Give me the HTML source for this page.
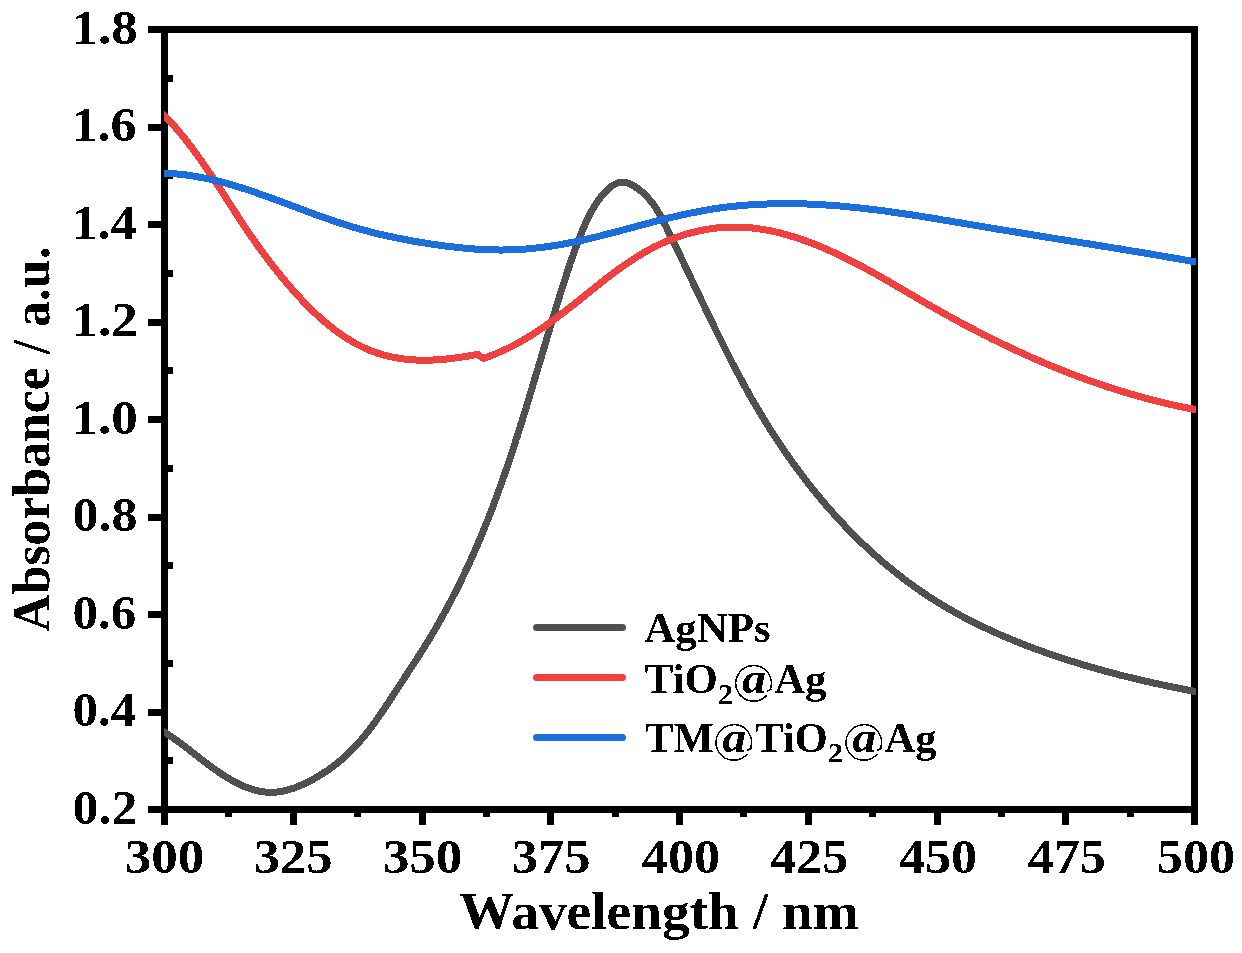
<!DOCTYPE html>
<html><head><meta charset="utf-8"><style>
html,body{margin:0;padding:0;background:#fff;}
svg{display:block;}
text{font-family:"Liberation Serif", serif;font-weight:bold;fill:#000;}
.tl{font-size:48px;}
.at{font-size:53px;}
.lg{font-size:42px;}
.sub{font-size:28px;}
</style></head><body>
<svg width="1242" height="953" viewBox="0 0 1242 953">
<defs><clipPath id="plotclip"><rect x="164" y="0" width="1032" height="953"/></clipPath><filter id="crisp" x="0" y="0" width="1242" height="953" filterUnits="userSpaceOnUse"><feComponentTransfer><feFuncA type="discrete" tableValues="0 1"/></feComponentTransfer></filter></defs>
<rect width="1242" height="953" fill="#fff"/>
<rect x="164.5" y="29.5" width="1030.0" height="780.0" fill="none" stroke="#000" stroke-width="7" shape-rendering="crispEdges"/>
<line x1="164.5" y1="809.5" x2="164.5" y2="825" stroke="#000" stroke-width="7" shape-rendering="crispEdges"/>
<line x1="228.875" y1="809.5" x2="228.875" y2="817" stroke="#000" stroke-width="7" shape-rendering="crispEdges"/>
<line x1="293.25" y1="809.5" x2="293.25" y2="825" stroke="#000" stroke-width="7" shape-rendering="crispEdges"/>
<line x1="357.625" y1="809.5" x2="357.625" y2="817" stroke="#000" stroke-width="7" shape-rendering="crispEdges"/>
<line x1="422.0" y1="809.5" x2="422.0" y2="825" stroke="#000" stroke-width="7" shape-rendering="crispEdges"/>
<line x1="486.375" y1="809.5" x2="486.375" y2="817" stroke="#000" stroke-width="7" shape-rendering="crispEdges"/>
<line x1="550.75" y1="809.5" x2="550.75" y2="825" stroke="#000" stroke-width="7" shape-rendering="crispEdges"/>
<line x1="615.125" y1="809.5" x2="615.125" y2="817" stroke="#000" stroke-width="7" shape-rendering="crispEdges"/>
<line x1="679.5" y1="809.5" x2="679.5" y2="825" stroke="#000" stroke-width="7" shape-rendering="crispEdges"/>
<line x1="743.875" y1="809.5" x2="743.875" y2="817" stroke="#000" stroke-width="7" shape-rendering="crispEdges"/>
<line x1="808.25" y1="809.5" x2="808.25" y2="825" stroke="#000" stroke-width="7" shape-rendering="crispEdges"/>
<line x1="872.625" y1="809.5" x2="872.625" y2="817" stroke="#000" stroke-width="7" shape-rendering="crispEdges"/>
<line x1="937.0" y1="809.5" x2="937.0" y2="825" stroke="#000" stroke-width="7" shape-rendering="crispEdges"/>
<line x1="1001.375" y1="809.5" x2="1001.375" y2="817" stroke="#000" stroke-width="7" shape-rendering="crispEdges"/>
<line x1="1065.75" y1="809.5" x2="1065.75" y2="825" stroke="#000" stroke-width="7" shape-rendering="crispEdges"/>
<line x1="1130.125" y1="809.5" x2="1130.125" y2="817" stroke="#000" stroke-width="7" shape-rendering="crispEdges"/>
<line x1="1194.5" y1="809.5" x2="1194.5" y2="825" stroke="#000" stroke-width="7" shape-rendering="crispEdges"/>
<line x1="148" y1="809.5" x2="164.5" y2="809.5" stroke="#000" stroke-width="7" shape-rendering="crispEdges"/>
<line x1="164.5" y1="760.75" x2="173" y2="760.75" stroke="#000" stroke-width="7" shape-rendering="crispEdges"/>
<line x1="148" y1="712.0" x2="164.5" y2="712.0" stroke="#000" stroke-width="7" shape-rendering="crispEdges"/>
<line x1="164.5" y1="663.25" x2="173" y2="663.25" stroke="#000" stroke-width="7" shape-rendering="crispEdges"/>
<line x1="148" y1="614.5" x2="164.5" y2="614.5" stroke="#000" stroke-width="7" shape-rendering="crispEdges"/>
<line x1="164.5" y1="565.75" x2="173" y2="565.75" stroke="#000" stroke-width="7" shape-rendering="crispEdges"/>
<line x1="148" y1="517.0" x2="164.5" y2="517.0" stroke="#000" stroke-width="7" shape-rendering="crispEdges"/>
<line x1="164.5" y1="468.25" x2="173" y2="468.25" stroke="#000" stroke-width="7" shape-rendering="crispEdges"/>
<line x1="148" y1="419.5" x2="164.5" y2="419.5" stroke="#000" stroke-width="7" shape-rendering="crispEdges"/>
<line x1="164.5" y1="370.75" x2="173" y2="370.75" stroke="#000" stroke-width="7" shape-rendering="crispEdges"/>
<line x1="148" y1="322.0" x2="164.5" y2="322.0" stroke="#000" stroke-width="7" shape-rendering="crispEdges"/>
<line x1="164.5" y1="273.25" x2="173" y2="273.25" stroke="#000" stroke-width="7" shape-rendering="crispEdges"/>
<line x1="148" y1="224.49999999999994" x2="164.5" y2="224.49999999999994" stroke="#000" stroke-width="7" shape-rendering="crispEdges"/>
<line x1="164.5" y1="175.74999999999991" x2="173" y2="175.74999999999991" stroke="#000" stroke-width="7" shape-rendering="crispEdges"/>
<line x1="148" y1="126.99999999999997" x2="164.5" y2="126.99999999999997" stroke="#000" stroke-width="7" shape-rendering="crispEdges"/>
<line x1="164.5" y1="78.24999999999994" x2="173" y2="78.24999999999994" stroke="#000" stroke-width="7" shape-rendering="crispEdges"/>
<line x1="148" y1="29.5" x2="164.5" y2="29.5" stroke="#000" stroke-width="7" shape-rendering="crispEdges"/>
<path d="M158.5,728.4 L164.5,732.3 L166.6,733.6 L168.6,735.0 L170.7,736.3 L172.7,737.7 L174.7,739.1 L176.6,740.4 L178.6,741.8 L180.5,743.2 L182.4,744.6 L184.3,746.1 L186.1,747.5 L188.0,748.9 L189.8,750.3 L191.7,751.8 L193.5,753.2 L195.3,754.6 L197.2,756.1 L199.0,757.5 L200.8,759.0 L202.7,760.4 L204.6,761.8 L206.4,763.2 L208.3,764.7 L210.2,766.1 L212.1,767.5 L214.1,768.9 L216.1,770.3 L218.1,771.7 L220.1,773.1 L222.1,774.4 L224.2,775.8 L226.3,777.1 L228.4,778.3 L230.5,779.6 L232.7,780.8 L234.8,782.0 L237.0,783.1 L239.2,784.2 L241.4,785.2 L243.6,786.2 L245.8,787.1 L248.1,788.0 L250.3,788.7 L252.6,789.5 L254.9,790.1 L257.1,790.7 L259.4,791.2 L261.7,791.6 L264.0,791.9 L266.3,792.2 L268.6,792.3 L270.9,792.4 L273.2,792.3 L275.6,792.2 L277.9,791.9 L280.2,791.6 L282.5,791.2 L284.8,790.7 L287.1,790.2 L289.3,789.5 L291.6,788.8 L293.9,788.1 L296.1,787.3 L298.4,786.4 L300.6,785.4 L302.8,784.5 L305.0,783.4 L307.2,782.4 L309.4,781.3 L311.6,780.1 L313.7,779.0 L315.8,777.8 L317.9,776.5 L320.0,775.3 L322.0,774.0 L324.0,772.7 L326.0,771.4 L328.0,770.1 L330.0,768.7 L331.9,767.3 L333.8,765.9 L335.7,764.4 L337.6,763.0 L339.4,761.5 L341.2,759.9 L343.0,758.4 L344.8,756.8 L346.5,755.2 L348.2,753.6 L349.9,751.9 L351.6,750.3 L353.2,748.6 L354.9,746.9 L356.5,745.1 L358.1,743.4 L359.6,741.6 L361.2,739.8 L362.7,738.0 L364.2,736.2 L365.7,734.3 L367.2,732.5 L368.6,730.6 L370.1,728.7 L371.5,726.8 L372.9,724.9 L374.3,723.0 L375.7,721.1 L377.1,719.1 L378.5,717.2 L379.8,715.2 L381.2,713.2 L382.5,711.2 L383.9,709.3 L385.2,707.3 L386.5,705.3 L387.9,703.3 L389.2,701.3 L390.5,699.3 L391.8,697.3 L393.1,695.3 L394.4,693.2 L395.7,691.2 L397.0,689.2 L398.3,687.2 L399.6,685.2 L401.0,683.2 L402.3,681.2 L403.6,679.2 L404.9,677.2 L406.2,675.2 L407.5,673.2 L408.8,671.2 L410.1,669.2 L411.4,667.2 L412.7,665.2 L414.0,663.2 L415.3,661.2 L416.6,659.2 L417.9,657.2 L419.2,655.2 L420.5,653.2 L421.7,651.2 L423.0,649.2 L424.3,647.2 L425.5,645.2 L426.8,643.2 L428.0,641.1 L429.3,639.1 L430.5,637.1 L431.7,635.0 L432.9,633.0 L434.2,630.9 L435.4,628.9 L436.6,626.8 L437.7,624.8 L438.9,622.7 L440.1,620.6 L441.3,618.6 L442.4,616.5 L443.6,614.4 L444.7,612.3 L445.9,610.2 L447.0,608.1 L448.1,606.0 L449.2,603.9 L450.3,601.8 L451.5,599.7 L452.5,597.6 L453.6,595.5 L454.7,593.4 L455.8,591.3 L456.9,589.1 L457.9,587.0 L459.0,584.9 L460.0,582.7 L461.1,580.6 L462.1,578.4 L463.2,576.3 L464.2,574.1 L465.2,572.0 L466.2,569.8 L467.2,567.7 L468.2,565.5 L469.2,563.4 L470.2,561.2 L471.2,559.0 L472.2,556.8 L473.1,554.7 L474.1,552.5 L475.1,550.3 L476.0,548.1 L477.0,545.9 L477.9,543.7 L478.8,541.5 L479.8,539.4 L480.7,537.2 L481.6,535.0 L482.5,532.8 L483.4,530.5 L484.3,528.3 L485.2,526.1 L486.1,523.9 L487.0,521.7 L487.9,519.5 L488.7,517.3 L489.6,515.1 L490.5,512.8 L491.3,510.6 L492.2,508.4 L493.0,506.2 L493.9,503.9 L494.7,501.7 L495.5,499.5 L496.4,497.2 L497.2,495.0 L498.0,492.8 L498.8,490.5 L499.6,488.3 L500.4,486.0 L501.2,483.8 L502.0,481.6 L502.8,479.3 L503.6,477.1 L504.4,474.8 L505.2,472.6 L505.9,470.3 L506.7,468.1 L507.5,465.8 L508.2,463.5 L509.0,461.3 L509.8,459.0 L510.5,456.8 L511.3,454.5 L512.0,452.2 L512.8,450.0 L513.5,447.7 L514.2,445.5 L515.0,443.2 L515.7,440.9 L516.4,438.6 L517.2,436.4 L517.9,434.1 L518.6,431.8 L519.3,429.6 L520.0,427.3 L520.7,425.0 L521.5,422.7 L522.2,420.5 L522.9,418.2 L523.6,415.9 L524.3,413.6 L525.0,411.4 L525.7,409.1 L526.4,406.8 L527.1,404.5 L527.8,402.2 L528.5,400.0 L529.2,397.7 L529.8,395.4 L530.5,393.1 L531.2,390.8 L531.9,388.5 L532.6,386.3 L533.3,384.0 L534.0,381.7 L534.6,379.4 L535.3,377.1 L536.0,374.8 L536.7,372.6 L537.4,370.3 L538.0,368.0 L538.7,365.7 L539.4,363.4 L540.1,361.1 L540.8,358.8 L541.4,356.6 L542.1,354.3 L542.8,352.0 L543.5,349.7 L544.2,347.4 L544.8,345.1 L545.5,342.9 L546.2,340.6 L546.9,338.3 L547.6,336.0 L548.2,333.7 L548.9,331.4 L549.6,329.2 L550.3,326.9 L551.0,324.6 L551.7,322.3 L552.4,320.0 L553.1,317.7 L553.7,315.5 L554.4,313.2 L555.1,310.9 L555.8,308.6 L556.5,306.4 L557.2,304.1 L557.9,301.8 L558.6,299.5 L559.3,297.3 L560.0,295.0 L560.7,292.7 L561.5,290.4 L562.2,288.2 L562.9,285.9 L563.6,283.6 L564.3,281.4 L565.0,279.1 L565.8,276.8 L566.5,274.6 L567.2,272.3 L568.0,270.1 L568.7,267.8 L569.5,265.6 L570.2,263.3 L571.0,261.1 L571.7,258.8 L572.5,256.6 L573.3,254.4 L574.1,252.2 L574.8,250.0 L575.7,247.8 L576.5,245.6 L577.3,243.4 L578.2,241.2 L579.0,239.0 L579.9,236.8 L580.8,234.6 L581.7,232.4 L582.5,230.2 L583.5,228.1 L584.4,225.9 L585.3,223.7 L586.3,221.6 L587.3,219.4 L588.3,217.3 L589.4,215.2 L590.5,213.1 L591.6,211.0 L592.8,208.9 L594.1,206.9 L595.3,204.8 L596.7,202.8 L598.0,200.8 L599.5,198.8 L601.0,196.9 L602.5,194.9 L604.2,193.0 L605.9,191.2 L607.6,189.5 L609.4,187.9 L611.3,186.4 L613.2,185.1 L615.2,184.1 L617.2,183.2 L619.3,182.6 L621.4,182.3 L623.5,182.3 L625.8,182.6 L628.0,183.3 L630.2,184.1 L632.4,185.2 L634.6,186.4 L636.7,187.8 L638.7,189.2 L640.6,190.7 L642.5,192.3 L644.3,194.0 L645.9,195.6 L647.6,197.4 L649.1,199.1 L650.6,200.9 L652.1,202.7 L653.5,204.6 L654.8,206.5 L656.1,208.5 L657.3,210.5 L658.5,212.5 L659.7,214.5 L660.8,216.6 L662.0,218.7 L663.0,220.8 L664.1,222.9 L665.2,225.1 L666.3,227.2 L667.3,229.3 L668.4,231.5 L669.4,233.6 L670.5,235.7 L671.5,237.9 L672.6,240.0 L673.6,242.2 L674.7,244.3 L675.7,246.4 L676.8,248.6 L677.8,250.7 L678.8,252.9 L679.9,255.0 L680.9,257.2 L681.9,259.3 L683.0,261.5 L684.0,263.6 L685.0,265.8 L686.1,267.9 L687.1,270.1 L688.1,272.2 L689.1,274.4 L690.2,276.5 L691.2,278.7 L692.2,280.8 L693.2,283.0 L694.2,285.1 L695.3,287.3 L696.3,289.4 L697.3,291.6 L698.3,293.7 L699.4,295.9 L700.4,298.0 L701.4,300.2 L702.4,302.3 L703.5,304.5 L704.5,306.6 L705.5,308.8 L706.5,310.9 L707.6,313.1 L708.6,315.2 L709.6,317.4 L710.7,319.5 L711.7,321.7 L712.8,323.8 L713.8,326.0 L714.8,328.1 L715.9,330.2 L716.9,332.4 L718.0,334.5 L719.0,336.7 L720.1,338.8 L721.2,340.9 L722.2,343.1 L723.3,345.2 L724.4,347.3 L725.4,349.4 L726.5,351.6 L727.6,353.7 L728.7,355.8 L729.7,357.9 L730.8,360.0 L731.9,362.2 L733.0,364.3 L734.1,366.4 L735.2,368.5 L736.3,370.6 L737.5,372.7 L738.6,374.8 L739.7,376.9 L740.8,379.0 L742.0,381.1 L743.1,383.2 L744.2,385.3 L745.4,387.4 L746.6,389.5 L747.7,391.5 L748.9,393.6 L750.0,395.7 L751.2,397.8 L752.4,399.8 L753.6,401.9 L754.8,404.0 L756.0,406.0 L757.2,408.1 L758.4,410.1 L759.6,412.2 L760.9,414.2 L762.1,416.3 L763.3,418.3 L764.6,420.4 L765.8,422.4 L767.1,424.4 L768.4,426.4 L769.6,428.5 L770.9,430.5 L772.2,432.5 L773.5,434.5 L774.8,436.5 L776.1,438.5 L777.4,440.5 L778.8,442.5 L780.1,444.5 L781.4,446.5 L782.8,448.4 L784.1,450.4 L785.5,452.4 L786.8,454.3 L788.2,456.3 L789.6,458.3 L791.0,460.2 L792.3,462.2 L793.7,464.1 L795.1,466.0 L796.6,468.0 L798.0,469.9 L799.4,471.8 L800.8,473.7 L802.3,475.6 L803.7,477.5 L805.2,479.4 L806.6,481.3 L808.1,483.2 L809.6,485.1 L811.0,486.9 L812.5,488.8 L814.0,490.7 L815.5,492.5 L817.0,494.4 L818.5,496.2 L820.1,498.0 L821.6,499.9 L823.1,501.7 L824.7,503.5 L826.2,505.3 L827.8,507.1 L829.3,508.9 L830.9,510.7 L832.5,512.5 L834.1,514.2 L835.7,516.0 L837.3,517.8 L838.9,519.5 L840.5,521.3 L842.1,523.0 L843.8,524.7 L845.4,526.5 L847.0,528.2 L848.7,529.9 L850.4,531.6 L852.0,533.3 L853.7,535.0 L855.4,536.6 L857.1,538.3 L858.8,540.0 L860.5,541.6 L862.2,543.3 L863.9,544.9 L865.6,546.5 L867.4,548.2 L869.1,549.8 L870.8,551.4 L872.6,553.0 L874.4,554.6 L876.1,556.1 L877.9,557.7 L879.7,559.3 L881.5,560.8 L883.3,562.4 L885.1,563.9 L886.9,565.4 L888.7,566.9 L890.6,568.4 L892.4,569.9 L894.3,571.4 L896.1,572.9 L898.0,574.4 L899.8,575.8 L901.7,577.3 L903.6,578.7 L905.5,580.2 L907.4,581.6 L909.3,583.0 L911.2,584.4 L913.1,585.8 L915.1,587.2 L917.0,588.5 L919.0,589.9 L920.9,591.3 L922.9,592.6 L924.9,593.9 L926.8,595.2 L928.8,596.6 L930.8,597.9 L932.8,599.1 L934.8,600.4 L936.8,601.7 L938.9,602.9 L940.9,604.2 L942.9,605.4 L945.0,606.6 L947.0,607.9 L949.1,609.1 L951.2,610.2 L953.3,611.4 L955.3,612.6 L957.4,613.8 L959.5,614.9 L961.6,616.0 L963.7,617.2 L965.9,618.3 L968.0,619.4 L970.1,620.5 L972.3,621.6 L974.4,622.7 L976.5,623.7 L978.7,624.8 L980.9,625.8 L983.0,626.9 L985.2,627.9 L987.4,628.9 L989.5,629.9 L991.7,630.9 L993.9,631.9 L996.1,632.9 L998.3,633.9 L1000.5,634.9 L1002.7,635.8 L1004.9,636.8 L1007.1,637.7 L1009.3,638.6 L1011.5,639.5 L1013.7,640.5 L1016.0,641.4 L1018.2,642.3 L1020.4,643.1 L1022.6,644.0 L1024.9,644.9 L1027.1,645.8 L1029.4,646.6 L1031.6,647.5 L1033.8,648.3 L1036.1,649.1 L1038.3,650.0 L1040.6,650.8 L1042.8,651.6 L1045.1,652.4 L1047.3,653.2 L1049.5,654.0 L1051.8,654.7 L1054.0,655.5 L1056.3,656.3 L1058.6,657.0 L1060.8,657.8 L1063.1,658.5 L1065.3,659.3 L1067.6,660.0 L1069.8,660.7 L1072.1,661.4 L1074.4,662.1 L1076.6,662.8 L1078.9,663.5 L1081.1,664.2 L1083.4,664.9 L1085.7,665.6 L1088.0,666.2 L1090.2,666.9 L1092.5,667.5 L1094.8,668.2 L1097.0,668.8 L1099.3,669.5 L1101.6,670.1 L1103.9,670.7 L1106.2,671.4 L1108.5,672.0 L1110.7,672.6 L1113.0,673.2 L1115.3,673.8 L1117.6,674.4 L1119.9,675.0 L1122.2,675.6 L1124.5,676.1 L1126.8,676.7 L1129.1,677.3 L1131.4,677.8 L1133.7,678.4 L1136.0,678.9 L1138.3,679.5 L1140.7,680.0 L1143.0,680.6 L1145.3,681.1 L1147.6,681.6 L1149.9,682.2 L1152.3,682.7 L1154.6,683.2 L1156.9,683.7 L1159.3,684.2 L1161.6,684.7 L1163.9,685.2 L1166.3,685.7 L1168.6,686.2 L1171.0,686.7 L1173.3,687.2 L1175.7,687.7 L1178.0,688.1 L1180.4,688.6 L1182.7,689.1 L1185.1,689.6 L1187.5,690.0 L1189.8,690.5 L1192.2,690.9 L1194.6,691.4 L1200.6,692.6" fill="none" stroke="#505050" stroke-width="7" stroke-linejoin="round" stroke-linecap="butt" shape-rendering="crispEdges" clip-path="url(#plotclip)"/>
<path d="M158.6,109.4 L164.6,115.7 L166.1,117.2 L167.6,118.8 L169.0,120.3 L170.5,121.9 L171.9,123.5 L173.3,125.1 L174.8,126.7 L176.2,128.3 L177.6,129.9 L178.9,131.5 L180.3,133.2 L181.7,134.8 L183.0,136.5 L184.4,138.1 L185.7,139.8 L187.0,141.5 L188.3,143.2 L189.6,144.8 L190.9,146.5 L192.2,148.2 L193.5,150.0 L194.7,151.7 L196.0,153.4 L197.3,155.1 L198.5,156.9 L199.7,158.6 L201.0,160.3 L202.2,162.1 L203.4,163.8 L204.6,165.6 L205.8,167.4 L207.0,169.1 L208.2,170.9 L209.4,172.7 L210.6,174.4 L211.8,176.2 L213.0,178.0 L214.2,179.8 L215.4,181.6 L216.5,183.4 L217.7,185.2 L218.9,187.0 L220.0,188.7 L221.2,190.5 L222.4,192.3 L223.5,194.1 L224.7,195.9 L225.8,197.7 L227.0,199.5 L228.1,201.3 L229.3,203.1 L230.5,204.9 L231.6,206.7 L232.8,208.5 L233.9,210.3 L235.1,212.1 L236.3,213.9 L237.4,215.7 L238.6,217.5 L239.8,219.3 L240.9,221.1 L242.1,222.8 L243.3,224.6 L244.5,226.4 L245.7,228.2 L246.8,229.9 L248.0,231.7 L249.2,233.5 L250.4,235.2 L251.7,237.0 L252.9,238.7 L254.1,240.5 L255.3,242.2 L256.5,243.9 L257.8,245.7 L259.0,247.4 L260.3,249.1 L261.5,250.8 L262.8,252.6 L264.0,254.3 L265.3,256.0 L266.6,257.7 L267.9,259.4 L269.1,261.1 L270.4,262.8 L271.7,264.4 L273.0,266.1 L274.4,267.8 L275.7,269.5 L277.0,271.1 L278.3,272.8 L279.7,274.5 L281.0,276.1 L282.4,277.8 L283.7,279.4 L285.1,281.0 L286.5,282.7 L287.9,284.3 L289.3,285.9 L290.7,287.5 L292.1,289.2 L293.5,290.8 L294.9,292.4 L296.4,294.0 L297.8,295.6 L299.3,297.1 L300.7,298.7 L302.2,300.3 L303.7,301.8 L305.2,303.4 L306.7,304.9 L308.2,306.5 L309.7,308.0 L311.2,309.5 L312.8,311.0 L314.3,312.5 L315.9,313.9 L317.4,315.4 L319.0,316.8 L320.6,318.3 L322.2,319.7 L323.9,321.1 L325.5,322.5 L327.1,323.9 L328.8,325.2 L330.5,326.5 L332.1,327.9 L333.8,329.2 L335.5,330.5 L337.2,331.7 L339.0,333.0 L340.7,334.2 L342.5,335.4 L344.2,336.6 L346.0,337.7 L347.8,338.9 L349.6,340.0 L351.4,341.1 L353.3,342.2 L355.1,343.2 L357.0,344.2 L358.8,345.2 L360.7,346.1 L362.6,347.1 L364.5,348.0 L366.4,348.8 L368.4,349.7 L370.3,350.5 L372.3,351.2 L374.2,352.0 L376.2,352.7 L378.2,353.4 L380.2,354.0 L382.2,354.6 L384.3,355.2 L386.3,355.7 L388.4,356.2 L390.4,356.7 L392.5,357.1 L394.6,357.5 L396.7,357.9 L398.8,358.3 L400.9,358.6 L403.0,358.9 L405.1,359.1 L407.3,359.4 L409.4,359.6 L411.5,359.7 L413.7,359.9 L415.8,360.0 L418.0,360.1 L420.1,360.1 L422.3,360.2 L424.5,360.2 L426.6,360.2 L428.8,360.1 L430.9,360.1 L433.1,360.0 L435.3,359.9 L437.4,359.8 L439.6,359.6 L441.7,359.5 L443.9,359.3 L446.0,359.1 L448.2,358.8 L450.3,358.6 L452.4,358.4 L454.6,358.1 L456.7,357.8 L458.8,357.5 L460.9,357.2 L463.0,356.9 L465.1,356.5 L467.2,356.2 L469.3,355.8 L471.3,355.5 L473.4,355.1 L475.4,354.7 L477.5,354.3 L480.4,356.5 L483.7,358.3 L486.2,357.4 L488.7,356.5 L491.2,355.5 L493.7,354.6 L496.2,353.6 L498.6,352.5 L501.0,351.5 L503.4,350.4 L505.8,349.3 L508.2,348.1 L510.5,347.0 L512.9,345.8 L515.2,344.6 L517.5,343.3 L519.8,342.1 L522.0,340.8 L524.3,339.5 L526.5,338.1 L528.8,336.8 L531.0,335.4 L533.2,334.0 L535.4,332.6 L537.6,331.2 L539.7,329.7 L541.9,328.3 L544.0,326.8 L546.2,325.3 L548.3,323.8 L550.4,322.2 L552.6,320.7 L554.7,319.2 L556.8,317.6 L558.9,316.0 L561.0,314.4 L563.1,312.8 L565.2,311.2 L567.2,309.6 L569.3,308.0 L571.4,306.4 L573.5,304.7 L575.5,303.1 L577.6,301.4 L579.7,299.8 L581.7,298.1 L583.8,296.4 L585.9,294.8 L588.0,293.1 L590.0,291.4 L592.1,289.8 L594.2,288.1 L596.3,286.4 L598.4,284.8 L600.4,283.1 L602.5,281.5 L604.6,279.9 L606.7,278.2 L608.8,276.6 L611.0,275.0 L613.1,273.4 L615.2,271.8 L617.3,270.2 L619.5,268.7 L621.6,267.1 L623.8,265.6 L626.0,264.1 L628.2,262.6 L630.4,261.1 L632.6,259.7 L634.8,258.3 L637.0,256.8 L639.2,255.5 L641.5,254.1 L643.7,252.8 L646.0,251.5 L648.3,250.2 L650.6,248.9 L652.9,247.7 L655.3,246.5 L657.6,245.4 L660.0,244.2 L662.4,243.1 L664.8,242.1 L667.2,241.0 L669.6,240.0 L672.0,239.1 L674.5,238.2 L676.9,237.3 L679.4,236.4 L681.9,235.6 L684.4,234.8 L686.9,234.0 L689.4,233.3 L691.9,232.6 L694.4,232.0 L697.0,231.4 L699.5,230.8 L702.1,230.3 L704.6,229.8 L707.2,229.3 L709.8,228.9 L712.3,228.6 L714.9,228.2 L717.5,227.9 L720.1,227.7 L722.7,227.5 L725.2,227.3 L727.8,227.2 L730.4,227.1 L733.0,227.0 L735.6,227.0 L738.2,227.1 L740.8,227.1 L743.4,227.3 L745.9,227.4 L748.5,227.6 L751.1,227.9 L753.7,228.1 L756.3,228.5 L758.9,228.8 L761.4,229.2 L764.0,229.6 L766.6,230.1 L769.2,230.6 L771.7,231.1 L774.3,231.6 L776.9,232.2 L779.4,232.8 L782.0,233.5 L784.5,234.2 L787.1,234.9 L789.6,235.6 L792.1,236.4 L794.7,237.2 L797.2,238.0 L799.7,238.8 L802.2,239.7 L804.8,240.6 L807.3,241.5 L809.8,242.4 L812.3,243.4 L814.8,244.3 L817.2,245.3 L819.7,246.3 L822.2,247.4 L824.6,248.4 L827.1,249.5 L829.5,250.6 L832.0,251.7 L834.4,252.8 L836.8,253.9 L839.3,255.1 L841.7,256.2 L844.1,257.4 L846.5,258.6 L848.8,259.8 L851.2,261.0 L853.6,262.2 L855.9,263.4 L858.3,264.6 L860.6,265.8 L863.0,267.1 L865.3,268.3 L867.6,269.6 L869.9,270.9 L872.2,272.1 L874.5,273.4 L876.8,274.7 L879.1,276.0 L881.4,277.3 L883.7,278.6 L885.9,279.9 L888.2,281.2 L890.5,282.5 L892.7,283.8 L895.0,285.1 L897.3,286.5 L899.5,287.8 L901.8,289.1 L904.0,290.4 L906.3,291.7 L908.5,293.1 L910.8,294.4 L913.1,295.7 L915.3,297.0 L917.6,298.4 L919.8,299.7 L922.1,301.0 L924.3,302.3 L926.6,303.6 L928.9,304.9 L931.1,306.2 L933.4,307.5 L935.7,308.8 L938.0,310.1 L940.3,311.4 L942.5,312.7 L944.8,314.0 L947.1,315.2 L949.4,316.5 L951.7,317.8 L954.0,319.0 L956.3,320.3 L958.6,321.5 L960.9,322.8 L963.3,324.0 L965.6,325.3 L967.9,326.5 L970.2,327.7 L972.6,328.9 L974.9,330.1 L977.2,331.4 L979.6,332.6 L981.9,333.8 L984.3,335.0 L986.6,336.1 L989.0,337.3 L991.3,338.5 L993.7,339.7 L996.0,340.8 L998.4,342.0 L1000.8,343.1 L1003.1,344.3 L1005.5,345.4 L1007.9,346.6 L1010.3,347.7 L1012.6,348.8 L1015.0,349.9 L1017.4,351.0 L1019.8,352.1 L1022.2,353.2 L1024.6,354.3 L1027.0,355.4 L1029.4,356.5 L1031.8,357.6 L1034.2,358.6 L1036.7,359.7 L1039.1,360.7 L1041.5,361.8 L1043.9,362.8 L1046.3,363.8 L1048.8,364.8 L1051.2,365.9 L1053.6,366.9 L1056.1,367.9 L1058.5,368.8 L1061.0,369.8 L1063.4,370.8 L1065.9,371.8 L1068.3,372.7 L1070.8,373.7 L1073.2,374.6 L1075.7,375.6 L1078.2,376.5 L1080.6,377.4 L1083.1,378.3 L1085.6,379.2 L1088.1,380.1 L1090.5,381.0 L1093.0,381.9 L1095.5,382.8 L1098.0,383.6 L1100.5,384.5 L1103.0,385.3 L1105.5,386.2 L1108.0,387.0 L1110.5,387.8 L1113.0,388.6 L1115.5,389.4 L1118.0,390.2 L1120.5,391.0 L1123.0,391.7 L1125.5,392.5 L1128.1,393.3 L1130.6,394.0 L1133.1,394.7 L1135.6,395.5 L1138.2,396.2 L1140.7,396.9 L1143.2,397.6 L1145.8,398.3 L1148.3,399.0 L1150.9,399.6 L1153.4,400.3 L1156.0,400.9 L1158.5,401.6 L1161.1,402.2 L1163.6,402.8 L1166.2,403.4 L1168.8,404.0 L1171.3,404.6 L1173.9,405.2 L1176.5,405.7 L1179.0,406.3 L1181.6,406.8 L1184.2,407.4 L1186.8,407.9 L1189.4,408.4 L1191.9,408.9 L1194.5,409.4 L1200.5,410.6" fill="none" stroke="#f04040" stroke-width="7" stroke-linejoin="round" stroke-linecap="butt" shape-rendering="crispEdges" clip-path="url(#plotclip)"/>
<path d="M158.6,172.8 L164.6,173.1 L166.7,173.2 L168.8,173.3 L171.0,173.4 L173.1,173.6 L175.2,173.8 L177.3,174.0 L179.4,174.2 L181.5,174.4 L183.6,174.7 L185.7,174.9 L187.8,175.2 L189.9,175.5 L192.0,175.8 L194.0,176.2 L196.1,176.5 L198.2,176.9 L200.2,177.3 L202.3,177.7 L204.4,178.1 L206.4,178.5 L208.5,178.9 L210.5,179.4 L212.5,179.8 L214.6,180.3 L216.6,180.8 L218.6,181.3 L220.7,181.8 L222.7,182.4 L224.7,182.9 L226.7,183.5 L228.7,184.0 L230.8,184.6 L232.8,185.2 L234.8,185.8 L236.8,186.4 L238.8,187.0 L240.8,187.6 L242.8,188.3 L244.8,188.9 L246.8,189.5 L248.7,190.2 L250.7,190.9 L252.7,191.5 L254.7,192.2 L256.7,192.9 L258.7,193.6 L260.7,194.3 L262.6,195.0 L264.6,195.7 L266.6,196.4 L268.6,197.1 L270.5,197.8 L272.5,198.5 L274.5,199.2 L276.5,200.0 L278.4,200.7 L280.4,201.4 L282.4,202.2 L284.3,202.9 L286.3,203.6 L288.3,204.4 L290.3,205.1 L292.2,205.9 L294.2,206.6 L296.2,207.3 L298.1,208.1 L300.1,208.8 L302.1,209.6 L304.0,210.3 L306.0,211.0 L308.0,211.8 L310.0,212.5 L311.9,213.2 L313.9,213.9 L315.9,214.7 L317.9,215.4 L319.8,216.1 L321.8,216.8 L323.8,217.5 L325.8,218.2 L327.8,218.9 L329.8,219.6 L331.7,220.3 L333.7,220.9 L335.7,221.6 L337.7,222.3 L339.7,222.9 L341.7,223.6 L343.7,224.2 L345.7,224.8 L347.7,225.5 L349.7,226.1 L351.7,226.7 L353.7,227.3 L355.8,227.9 L357.8,228.5 L359.8,229.0 L361.8,229.6 L363.8,230.1 L365.9,230.7 L367.9,231.2 L369.9,231.7 L372.0,232.3 L374.0,232.8 L376.0,233.3 L378.1,233.8 L380.1,234.3 L382.2,234.7 L384.2,235.2 L386.3,235.7 L388.3,236.1 L390.4,236.6 L392.4,237.0 L394.5,237.5 L396.5,237.9 L398.6,238.3 L400.6,238.7 L402.7,239.1 L404.8,239.5 L406.8,239.9 L408.9,240.3 L411.0,240.7 L413.0,241.1 L415.1,241.4 L417.2,241.8 L419.3,242.1 L421.3,242.5 L423.4,242.8 L425.5,243.1 L427.6,243.5 L429.6,243.8 L431.7,244.1 L433.8,244.4 L435.9,244.7 L438.0,245.0 L440.1,245.3 L442.1,245.6 L444.2,245.9 L446.3,246.1 L448.4,246.4 L450.5,246.7 L452.6,246.9 L454.7,247.1 L456.8,247.4 L458.9,247.6 L460.9,247.8 L463.0,248.0 L465.1,248.2 L467.2,248.4 L469.3,248.6 L471.4,248.7 L473.5,248.9 L475.6,249.1 L477.7,249.2 L479.8,249.3 L481.9,249.4 L484.0,249.5 L486.1,249.6 L488.2,249.7 L490.3,249.8 L492.4,249.9 L494.5,249.9 L496.5,249.9 L498.6,250.0 L500.7,250.0 L502.8,250.0 L504.9,249.9 L507.0,249.9 L509.1,249.9 L511.2,249.8 L513.3,249.7 L515.4,249.7 L517.5,249.6 L519.5,249.4 L521.6,249.3 L523.7,249.2 L525.8,249.0 L527.9,248.8 L530.0,248.7 L532.0,248.5 L534.1,248.3 L536.2,248.0 L538.3,247.8 L540.4,247.6 L542.4,247.3 L544.5,247.0 L546.6,246.7 L548.7,246.5 L550.7,246.2 L552.8,245.8 L554.9,245.5 L557.0,245.2 L559.0,244.8 L561.1,244.5 L563.2,244.1 L565.2,243.7 L567.3,243.3 L569.3,242.9 L571.4,242.5 L573.5,242.1 L575.5,241.7 L577.6,241.3 L579.6,240.8 L581.7,240.4 L583.7,239.9 L585.8,239.4 L587.8,239.0 L589.9,238.5 L591.9,238.0 L594.0,237.5 L596.0,237.0 L598.1,236.5 L600.1,236.0 L602.2,235.5 L604.2,234.9 L606.3,234.4 L608.3,233.9 L610.3,233.4 L612.4,232.8 L614.4,232.3 L616.5,231.7 L618.5,231.2 L620.5,230.7 L622.6,230.1 L624.6,229.6 L626.6,229.0 L628.7,228.5 L630.7,227.9 L632.8,227.4 L634.8,226.8 L636.8,226.3 L638.9,225.7 L640.9,225.2 L642.9,224.6 L645.0,224.1 L647.0,223.6 L649.1,223.0 L651.1,222.5 L653.1,221.9 L655.2,221.4 L657.2,220.9 L659.3,220.4 L661.3,219.9 L663.3,219.3 L665.4,218.8 L667.4,218.3 L669.5,217.8 L671.5,217.3 L673.6,216.9 L675.6,216.4 L677.7,215.9 L679.7,215.4 L681.8,215.0 L683.8,214.5 L685.9,214.1 L687.9,213.6 L690.0,213.2 L692.1,212.8 L694.1,212.4 L696.2,212.0 L698.2,211.6 L700.3,211.2 L702.4,210.8 L704.4,210.4 L706.5,210.1 L708.6,209.7 L710.7,209.4 L712.7,209.0 L714.8,208.7 L716.9,208.4 L719.0,208.1 L721.1,207.8 L723.2,207.6 L725.2,207.3 L727.3,207.0 L729.4,206.8 L731.5,206.6 L733.6,206.3 L735.7,206.1 L737.8,205.9 L739.9,205.7 L742.0,205.5 L744.1,205.3 L746.2,205.2 L748.3,205.0 L750.4,204.8 L752.5,204.7 L754.6,204.6 L756.7,204.4 L758.8,204.3 L760.9,204.2 L763.0,204.1 L765.1,204.0 L767.2,204.0 L769.3,203.9 L771.4,203.8 L773.6,203.8 L775.7,203.7 L777.8,203.7 L779.9,203.7 L782.0,203.6 L784.1,203.6 L786.2,203.6 L788.3,203.6 L790.4,203.6 L792.5,203.7 L794.6,203.7 L796.7,203.7 L798.8,203.8 L800.9,203.8 L803.0,203.9 L805.1,203.9 L807.2,204.0 L809.3,204.1 L811.4,204.2 L813.5,204.3 L815.6,204.4 L817.7,204.5 L819.8,204.6 L821.9,204.7 L824.0,204.8 L826.1,205.0 L828.2,205.1 L830.3,205.3 L832.4,205.4 L834.5,205.6 L836.6,205.8 L838.7,205.9 L840.8,206.1 L842.9,206.3 L845.0,206.5 L847.1,206.7 L849.2,206.9 L851.3,207.1 L853.4,207.3 L855.5,207.5 L857.5,207.7 L859.6,208.0 L861.7,208.2 L863.8,208.4 L865.9,208.7 L868.0,208.9 L870.1,209.2 L872.2,209.4 L874.3,209.7 L876.4,209.9 L878.5,210.2 L880.6,210.5 L882.6,210.7 L884.7,211.0 L886.8,211.3 L888.9,211.6 L891.0,211.9 L893.1,212.2 L895.2,212.5 L897.3,212.8 L899.4,213.1 L901.4,213.4 L903.5,213.7 L905.6,214.0 L907.7,214.3 L909.8,214.6 L911.9,214.9 L914.0,215.3 L916.0,215.6 L918.1,215.9 L920.2,216.2 L922.3,216.6 L924.4,216.9 L926.5,217.2 L928.6,217.6 L930.6,217.9 L932.7,218.2 L934.8,218.6 L936.9,218.9 L939.0,219.3 L941.1,219.6 L943.1,220.0 L945.2,220.3 L947.3,220.7 L949.4,221.0 L951.5,221.4 L953.5,221.7 L955.6,222.1 L957.7,222.4 L959.8,222.8 L961.9,223.1 L964.0,223.5 L966.0,223.8 L968.1,224.2 L970.2,224.5 L972.3,224.9 L974.4,225.2 L976.4,225.6 L978.5,225.9 L980.6,226.3 L982.7,226.6 L984.8,227.0 L986.8,227.3 L988.9,227.7 L991.0,228.0 L993.1,228.4 L995.1,228.7 L997.2,229.1 L999.3,229.4 L1001.4,229.7 L1003.5,230.1 L1005.5,230.4 L1007.6,230.8 L1009.7,231.1 L1011.8,231.5 L1013.8,231.8 L1015.9,232.1 L1018.0,232.5 L1020.1,232.8 L1022.2,233.1 L1024.2,233.5 L1026.3,233.8 L1028.4,234.2 L1030.5,234.5 L1032.5,234.8 L1034.6,235.2 L1036.7,235.5 L1038.8,235.8 L1040.8,236.2 L1042.9,236.5 L1045.0,236.9 L1047.1,237.2 L1049.1,237.5 L1051.2,237.9 L1053.3,238.2 L1055.4,238.5 L1057.4,238.9 L1059.5,239.2 L1061.6,239.5 L1063.7,239.9 L1065.8,240.2 L1067.8,240.5 L1069.9,240.9 L1072.0,241.2 L1074.1,241.5 L1076.1,241.9 L1078.2,242.2 L1080.3,242.5 L1082.4,242.9 L1084.4,243.2 L1086.5,243.5 L1088.6,243.9 L1090.7,244.2 L1092.7,244.5 L1094.8,244.9 L1096.9,245.2 L1099.0,245.6 L1101.0,245.9 L1103.1,246.2 L1105.2,246.6 L1107.3,246.9 L1109.3,247.2 L1111.4,247.6 L1113.5,247.9 L1115.6,248.3 L1117.7,248.6 L1119.7,248.9 L1121.8,249.3 L1123.9,249.6 L1126.0,250.0 L1128.0,250.3 L1130.1,250.7 L1132.2,251.0 L1134.3,251.3 L1136.4,251.7 L1138.4,252.0 L1140.5,252.4 L1142.6,252.7 L1144.7,253.1 L1146.7,253.4 L1148.8,253.8 L1150.9,254.1 L1153.0,254.5 L1155.1,254.8 L1157.1,255.2 L1159.2,255.5 L1161.3,255.9 L1163.4,256.3 L1165.5,256.6 L1167.5,257.0 L1169.6,257.3 L1171.7,257.7 L1173.8,258.1 L1175.9,258.4 L1178.0,258.8 L1180.0,259.1 L1182.1,259.5 L1184.2,259.9 L1186.3,260.2 L1188.4,260.6 L1190.4,261.0 L1192.5,261.4 L1194.6,261.7 L1200.6,262.8" fill="none" stroke="#1c6edc" stroke-width="7" stroke-linejoin="round" stroke-linecap="butt" shape-rendering="crispEdges" clip-path="url(#plotclip)"/>
<line x1="536.5" y1="627.5" x2="622.5" y2="627.5" stroke="#505050" stroke-width="7" stroke-linecap="round"/>
<line x1="536.5" y1="677.5" x2="622.5" y2="677.5" stroke="#f04040" stroke-width="7" stroke-linecap="round"/>
<line x1="536.5" y1="737.5" x2="622.5" y2="737.5" stroke="#1c6edc" stroke-width="7" stroke-linecap="round"/>
<g filter="url(#crisp)">
<text transform="matrix(1.1044,0,0,1.0000,124.69,872.90)" style="font-size:48px">300</text>
<text transform="matrix(1.0941,0,0,1.0000,253.81,872.90)" style="font-size:48px">325</text>
<text transform="matrix(1.1000,0,0,1.0000,382.90,872.90)" style="font-size:48px">350</text>
<text transform="matrix(1.0941,0,0,1.0000,511.81,872.90)" style="font-size:48px">375</text>
<text transform="matrix(1.0870,0,0,1.0000,641.81,872.90)" style="font-size:48px">400</text>
<text transform="matrix(1.0870,0,0,1.0000,770.16,872.90)" style="font-size:48px">425</text>
<text transform="matrix(1.0870,0,0,1.0000,898.91,872.90)" style="font-size:48px">450</text>
<text transform="matrix(1.0870,0,0,1.0000,1027.66,872.90)" style="font-size:48px">475</text>
<text transform="matrix(1.0882,0,0,1.0000,1156.82,872.90)" style="font-size:48px">500</text>
<text transform="matrix(1.0821,0,0,1.0000,72.54,823.90)" style="font-size:48px">0.2</text>
<text transform="matrix(1.0632,0,0,1.0000,72.57,726.40)" style="font-size:48px">0.4</text>
<text transform="matrix(1.0632,0,0,1.0000,72.57,628.90)" style="font-size:48px">0.6</text>
<text transform="matrix(1.0821,0,0,1.0000,72.54,531.40)" style="font-size:48px">0.8</text>
<text transform="matrix(1.1074,0,0,1.0000,71.37,433.90)" style="font-size:48px">1.0</text>
<text transform="matrix(1.1074,0,0,1.0000,71.37,336.40)" style="font-size:48px">1.2</text>
<text transform="matrix(1.0873,0,0,1.0000,71.45,238.90)" style="font-size:48px">1.4</text>
<text transform="matrix(1.0873,0,0,1.0000,71.45,141.40)" style="font-size:48px">1.6</text>
<text transform="matrix(1.1074,0,0,1.0000,71.37,43.90)" style="font-size:48px">1.8</text>
<text transform="matrix(1.0446,0,0,1.0000,458.96,928.80)" style="font-size:53px">Wavelength / nm</text>
<text transform="translate(49.2,631.78) rotate(-90) scale(0.9767,1)" style="font-size:53px">Absorbance / a.u.</text>
<text transform="matrix(1.0220,0,0,1.0000,644.30,641.90)" style="font-size:42px">AgNPs</text>
<text transform="matrix(1.0188,0,0,1.0000,644.78,692.80)" style="font-size:42px">TiO</text>
<text transform="matrix(1.0833,0,0,1.0556,717.82,703.80)" style="font-size:28px">2</text>
<path d="M770.10,689.97 A17.8,17.8 0 1 0 767.24,694.74" fill="none" stroke="#000" stroke-width="1.5"/>
<path d="M767.10,691.17 L771.60,689.17" stroke="#000" stroke-width="1.5"/>
<text transform="matrix(1.1211,0,0,1.0263,742.08,693.10)" style="font-size:43px;font-style:italic">a</text>
<text transform="matrix(1.0157,0,0,1.0000,774.30,692.80)" style="font-size:42px">Ag</text>
<text transform="matrix(1.0182,0,0,1.0000,644.88,752.00)" style="font-size:42px">TM</text>
<path d="M750.30,749.07 A17.8,17.8 0 1 0 747.44,753.84" fill="none" stroke="#000" stroke-width="1.5"/>
<path d="M747.30,750.27 L751.80,748.27" stroke="#000" stroke-width="1.5"/>
<text transform="matrix(1.1211,0,0,1.0263,722.28,752.20)" style="font-size:43px;font-style:italic">a</text>
<text transform="matrix(1.0174,0,0,1.0000,754.98,752.00)" style="font-size:42px">TiO</text>
<text transform="matrix(1.0917,0,0,1.0056,827.81,762.40)" style="font-size:28px">2</text>
<path d="M880.30,749.07 A17.8,17.8 0 1 0 877.44,753.84" fill="none" stroke="#000" stroke-width="1.5"/>
<path d="M877.30,750.27 L881.80,748.27" stroke="#000" stroke-width="1.5"/>
<text transform="matrix(1.1211,0,0,1.0263,852.28,752.20)" style="font-size:43px;font-style:italic">a</text>
<text transform="matrix(1.0157,0,0,1.0000,884.40,752.00)" style="font-size:42px">Ag</text>
</g>
</svg></body></html>
